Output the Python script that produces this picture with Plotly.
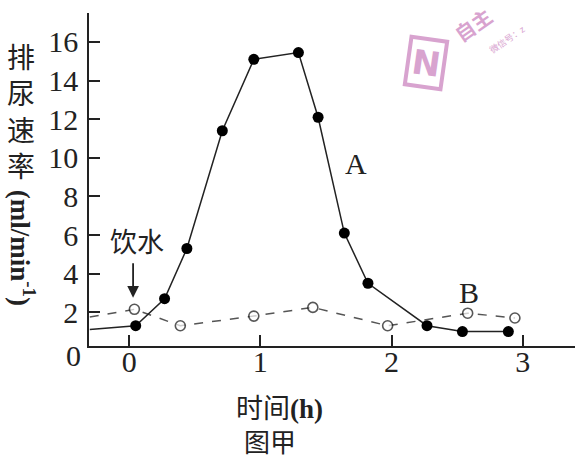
import plotly.graph_objects as go

# krzywa A - po wypiciu wody
a_czas = [-0.3, 0.05, 0.27, 0.44, 0.71, 0.95, 1.29, 1.44, 1.64, 1.82, 2.27, 2.54, 2.89]
a_wartosc = [1.1, 1.3, 2.7, 5.3, 11.4, 15.1, 15.45, 12.1, 6.1, 3.5, 1.3, 1.0, 1.0]

# krzywa B
b_czas = [-0.3, 0.04, 0.39, 0.95, 1.40, 1.97, 2.58, 2.94]
b_wartosc = [1.75, 2.15, 1.3, 1.8, 2.25, 1.3, 1.95, 1.7]

x_ticks = [0, 1, 2, 3]
y_ticks = [2, 4, 6, 8, 10, 12, 14, 16]

serif = "Liberation Serif"
cjk = "Noto Sans CJK SC"
pink = "#d8a3cf"

fig = go.Figure()

fig.add_trace(go.Scatter(
    x=b_czas, y=b_wartosc, mode="lines+markers",
    line=dict(color="#555555", width=1.5, dash="dash"),
    marker=dict(size=[0] + [10] * (len(b_czas) - 1), color="white",
                line=dict(color="#111111", width=1.6)),
    cliponaxis=False,
))
fig.add_trace(go.Scatter(
    x=a_czas, y=a_wartosc, mode="lines+markers",
    line=dict(color="#222222", width=1.5),
    marker=dict(size=[0] + [11] * (len(a_czas) - 1), color="#000000",
                line=dict(width=0), opacity=1),
    cliponaxis=False,
))

fig.update_layout(
    width=575, height=459,
    margin=dict(l=89, r=0, t=13, b=113),
    paper_bgcolor="white", plot_bgcolor="white",
    showlegend=False,
    font=dict(family=serif, size=28, color="#222222"),
)

fig.update_xaxes(
    range=[-0.306, 3.398], tickvals=x_ticks,
    ticks="inside", ticklen=11, tickwidth=1.5, tickcolor="#222222",
    showline=True, linecolor="#222222", linewidth=1.5,
    showgrid=False, zeroline=False, ticklabelstandoff=-12,
    tickfont=dict(family=serif, size=30),
)
fig.update_yaxes(
    range=[0.25, 17.5], tickvals=y_ticks,
    ticks="inside", ticklen=11, tickwidth=1.5, tickcolor="#222222",
    showline=True, linecolor="#222222", linewidth=1.5,
    showgrid=False, zeroline=False, ticklabelstandoff=3,
    tickfont=dict(family=serif, size=30),
)

# napisy
fig.add_annotation(xref="paper", yref="paper", x=0, xanchor="right", xshift=-6,
                   y=0, yanchor="middle", yshift=-9,
                   text="0", showarrow=False, font=dict(family=serif, size=30))
fig.add_annotation(xref="paper", yref="paper", x=0, xanchor="center", xshift=-68,
                   y=0.706, yanchor="middle",
                   text="排<br>尿<br>速<br>率", showarrow=False,
                   font=dict(family=cjk, size=28))
fig.add_annotation(xref="paper", yref="paper", x=0, xanchor="center", xshift=-66,
                   y=0.295, yanchor="middle",
                   text="<b>(ml/min<sup>-1</sup>)</b>", textangle=90, showarrow=False,
                   font=dict(family=serif, size=27))
fig.add_annotation(xref="paper", yref="paper", x=0.391, xanchor="center",
                   y=0, yanchor="middle", yshift=-60,
                   text="时间<b><span style='font-family:Liberation Serif'>(h)</span></b>",
                   showarrow=False, font=dict(family=cjk, size=27))
fig.add_annotation(xref="paper", yref="paper", x=0.372, xanchor="center",
                   y=0, yanchor="middle", yshift=-94,
                   text="图甲", showarrow=False, font=dict(family=cjk, size=26))

fig.add_annotation(x=0.06, y=5.7, xanchor="center", yanchor="middle", text="饮水",
                   showarrow=False, font=dict(family=cjk, size=27))
fig.add_annotation(x=0.03, y=2.75, ax=0, ay=-36, text="", showarrow=True,
                   arrowhead=2, arrowsize=1.3, arrowwidth=1.8, arrowcolor="#222222")

fig.add_annotation(x=1.73, y=9.7, xanchor="center", yanchor="middle", text="A",
                   showarrow=False, font=dict(family=serif, size=30))
fig.add_annotation(x=2.59, y=3.0, xanchor="center", yanchor="middle", text="B",
                   showarrow=False, font=dict(family=serif, size=30))

# znak wodny
fig.add_annotation(xref="paper", yref="paper", x=0.693, y=0.85, xanchor="center",
                   yanchor="middle", text="<b>N</b>",
                   showarrow=False, textangle=8, bordercolor=pink, borderwidth=4,
                   borderpad=2, font=dict(family="DejaVu Sans", size=34, color=pink))
fig.add_annotation(xref="paper", yref="paper", x=0.79, y=0.965, xanchor="center",
                   yanchor="middle", text="<b>自主</b>",
                   showarrow=False, textangle=-35,
                   font=dict(family=cjk, size=20, color=pink))
fig.add_annotation(xref="paper", yref="paper", x=0.86, y=0.92, xanchor="center",
                   yanchor="middle", text="微信号：z",
                   showarrow=False, textangle=-35,
                   font=dict(family=cjk, size=9, color=pink))

fig.write_html("out.html", config={"displayModeBar": False},
               post_script="document.body.style.margin='0';document.body.style.overflow='hidden';")
